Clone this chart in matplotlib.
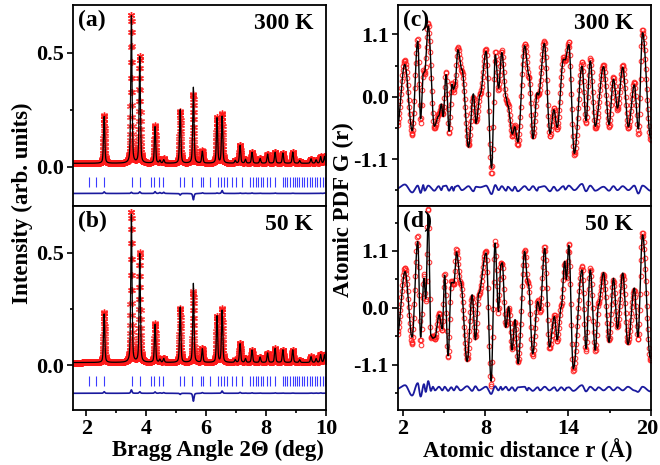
import numpy as np
import matplotlib.pyplot as plt
import matplotlib.transforms as mtransforms
from matplotlib.ticker import MultipleLocator, AutoMinorLocator

plt.rcParams['font.family'] = ['Liberation Serif', 'DejaVu Serif']
plt.rcParams['font.weight'] = 'bold'
plt.rcParams['axes.labelweight'] = 'bold'
plt.rcParams['font.size'] = 16
plt.rcParams['axes.linewidth'] = 1.3

# ---- XRD (Rietveld) : peak list, heights above background ----
peak_pos = [2.59, 3.50, 3.78, 4.29, 4.45, 4.58, 5.13, 5.57, 5.87, 6.36, 6.53, 6.97, 7.13,
            7.31, 7.53, 7.80, 8.05, 8.30, 8.56, 8.89, 9.12, 9.50, 9.67, 9.82, 9.95]
h_obs_300 = [0.212, 0.650, 0.472, 0.168, 0.016, 0.020, 0.228, 0.305, 0.055, 0.200, 0.218, 0.012, 0.080,
             0.018, 0.050, 0.022, 0.040, 0.050, 0.045, 0.050, 0.012, 0.020, 0.015, 0.030, 0.032]
h_calc_300 = [0.205, 0.645, 0.465, 0.160, 0.012, 0.015, 0.235, 0.333, 0.052, 0.198, 0.205, 0.012, 0.078,
              0.017, 0.048, 0.021, 0.040, 0.048, 0.045, 0.049, 0.012, 0.020, 0.015, 0.029, 0.030]
h_obs_50 = [0.222, 0.670, 0.487, 0.174, 0.015, 0.020, 0.240, 0.315, 0.063, 0.205, 0.240, 0.012, 0.087,
            0.018, 0.057, 0.025, 0.042, 0.064, 0.057, 0.057, 0.012, 0.027, 0.018, 0.037, 0.035]
h_calc_50 = [0.215, 0.655, 0.480, 0.168, 0.013, 0.017, 0.245, 0.350, 0.060, 0.205, 0.230, 0.012, 0.083,
             0.017, 0.055, 0.024, 0.042, 0.062, 0.056, 0.056, 0.012, 0.026, 0.017, 0.035, 0.034]
bg_300 = 0.015
bg_50 = 0.013

# Bragg reflection positions (deg)
bragg_pos = [2.07, 2.33, 2.60, 3.52, 3.78, 4.15, 4.27, 4.42, 4.57, 5.14, 5.25, 5.54, 5.81, 5.90,
             6.12, 6.40, 6.49, 6.59, 6.70, 6.85, 6.99, 7.18, 7.46, 7.55, 7.66, 7.74, 7.82, 7.91,
             8.02, 8.13, 8.30, 8.55, 8.63, 8.71, 8.80, 8.89, 8.97, 9.02, 9.11, 9.19, 9.27, 9.36,
             9.45, 9.54, 9.64, 9.71, 9.80, 9.89, 9.97]

# ---- PDF : turning points of G(r), and obs - calc at those points ----
r_300 = [1.60, 2.16, 2.70, 3.10, 3.31, 3.50, 3.60, 3.86, 4.30, 4.62, 4.81, 4.94, 5.15, 5.37, 5.58,
         5.69, 5.80, 6.01, 6.30, 6.78, 7.13, 7.32, 7.62, 8.05, 8.45, 8.72, 8.96, 9.19, 9.50, 9.62,
         9.96, 10.13, 10.35, 10.85, 11.16, 11.45, 11.75, 11.85, 12.27, 12.68, 12.96, 13.20, 13.66,
         13.78, 14.04, 14.45, 15.00, 15.29, 15.60, 15.96, 16.56, 16.96, 17.28, 17.57, 17.95, 18.36,
         18.79, 19.08, 19.39, 19.97, 20.05]
g_300 = [-0.55, 0.64, -0.67, 1.03, -0.47, 0.47, 0.40, 1.30, -0.56, -0.30, -0.16, -0.31, 0.44, -0.65, 0.25,
         0.09, 0.23, 0.88, 0.45, -0.85, 0.00, -0.44, 0.06, 0.85, -1.36, 0.80, 0.12, 0.82, -0.05, -0.12,
         -0.70, -0.50, -0.85, 0.94, 0.35, -0.70, 0.03, 0.05, 0.98, -0.70, -0.20, -0.58, 0.70,
         0.63, 0.97, -1.03, 0.62, -0.47, 0.68, -0.56, 0.56, -0.53, 0.35, -0.23, 0.56, -0.56,
         0.26, -0.66, 1.18, -0.76, -0.70]
d_300 = [0.00, 0.07, -0.07, 0.05, -0.08, 0.06, -0.04, 0.05, -0.04, 0.04, -0.03, 0.04, 0.05, -0.04, 0.03,
         -0.04, 0.03, 0.05, -0.03, 0.04, -0.05, 0.03, 0.02, 0.05, -0.10, 0.06, -0.03, 0.04, -0.04, 0.03,
         -0.04, 0.03, -0.05, 0.04, -0.03, 0.04, -0.04, 0.02, 0.04, -0.05, 0.03, -0.04, 0.04,
         -0.02, 0.05, -0.03, 0.08, -0.05, 0.05, -0.04, 0.03, -0.04, 0.04, -0.03, 0.04, -0.03,
         0.05, -0.09, 0.05, -0.04, 0.00]

r_50 = [1.60, 2.18, 2.69, 3.10, 3.31, 3.55, 3.68, 3.86, 4.05, 4.20, 4.35, 4.64, 4.88, 5.05, 5.30,
        5.53, 5.72, 5.91, 6.20, 6.68, 7.04, 7.28, 7.52, 8.05, 8.42, 8.70, 8.95, 9.12, 9.22, 9.48,
        9.69, 9.93, 10.15, 10.37, 10.85, 11.04, 11.12, 11.43, 11.79, 11.96, 12.30, 12.64, 13.00,
        13.20, 13.50, 13.75, 13.87, 14.04, 14.37, 15.00, 15.29, 15.60, 15.96, 16.20, 16.56, 16.96,
        17.28, 17.57, 17.95, 18.33, 18.79, 19.05, 19.39, 19.95, 20.05]
g_50 = [-0.55, 0.77, -0.70, 1.39, -0.72, 0.66, 0.12, 1.95, -0.58, -0.55, -0.60, -0.10, -0.44, 0.67, -0.97,
        0.52, 0.45, 1.13, 0.48, -0.99, 0.21, -0.57, 0.25, 1.10, -1.52, 1.30, -0.10, 0.87, 0.85, -0.34,
        -0.01, -0.79, -0.27, -1.05, 1.13, 0.52, 0.47, -0.93, 0.15, -0.08, 1.19, -0.79, -0.14,
        -0.66, 0.05, 0.87, 0.57, 1.24, -1.22, 0.80, -0.84, 0.77, -0.85, 0.09, 0.65, -0.63,
        0.54, -0.37, 0.64, -0.67, 0.35, -0.62, 1.45, -1.02, -0.95]
d_50 = [0.00, 0.07, -0.13, 0.11, -0.15, 0.09, -0.06, 0.15, -0.04, 0.04, -0.03, 0.04, -0.03, 0.04, -0.04,
        0.03, -0.03, 0.05, -0.03, 0.05, -0.04, 0.05, -0.03, 0.04, -0.10, 0.05, -0.03, 0.04, -0.02, 0.04,
        -0.03, 0.03, -0.04, 0.03, 0.04, -0.03, 0.02, -0.04, 0.03, -0.03, 0.04, -0.03, 0.03,
        -0.04, 0.03, -0.03, 0.02, 0.03, -0.04, 0.07, -0.05, 0.04, -0.03, 0.03, -0.03, 0.04,
        -0.03, 0.03, -0.03, 0.04, -0.03, -0.06, 0.04, -0.05, 0.00]

RED = '#ff1a1a'
NAVY = '#1a1a9e'
TICKBLUE = '#3c3cff'


def xrd_profile(x, pos, h, bg, w=0.05, eta=0.45):
    y = np.full_like(x, bg)
    for p, a in zip(pos, h):
        d = (x - p) / w
        y += a * (eta / (1 + 4 * d ** 2) + (1 - eta) * np.exp(-4 * np.log(2) * d ** 2))
    return y


def through_points(r, rk, gk):
    rk = np.asarray(rk)
    gk = np.asarray(gk)
    i = np.clip(np.searchsorted(rk, r) - 1, 0, len(rk) - 2)
    t = (r - rk[i]) / (rk[i + 1] - rk[i])
    s = (1 - np.cos(np.pi * t)) / 2
    return gk[i] + (gk[i + 1] - gk[i]) * s


def style(ax):
    ax.tick_params(which='both', direction='out', width=1.2, labelsize=16, pad=2)
    ax.tick_params(which='major', length=4.5)
    ax.tick_params(which='minor', length=2.5)
    ax.xaxis.set_minor_locator(AutoMinorLocator(2))
    ax.yaxis.set_minor_locator(AutoMinorLocator(2))


fig = plt.figure(figsize=(6.6, 4.65), dpi=100)
W, H = 660, 465


def box(x0, y0, x1, y1):
    return [x0 / W, 1 - y1 / H, (x1 - x0) / W, (y1 - y0) / H]


ax_a = fig.add_axes(box(73, 5, 326, 206))
ax_b = fig.add_axes(box(73, 206, 326, 410))
ax_c = fig.add_axes(box(398, 5, 651, 206))
ax_d = fig.add_axes(box(398, 206, 651, 410))

tt = np.arange(1.55, 10.0, 0.004)
xfine = np.arange(1.55, 10.0, 0.002)
for ax, ho, hc, bg, ylim, tick_y, dif_y, label, temp in [
        (ax_a, h_obs_300, h_calc_300, bg_300, (-0.172, 0.709), -0.067, -0.117, '(a)', '300 K'),
        (ax_b, h_obs_50, h_calc_50, bg_50, (-0.197, 0.706), -0.068, -0.123, '(b)', '50 K')]:
    obs = xrd_profile(tt, peak_pos, ho, bg)
    calc = xrd_profile(xfine, peak_pos, hc, bg)
    diff = xrd_profile(xfine, peak_pos, ho, bg) - calc
    ax.plot(tt, obs, linestyle='none', marker=(6, 2, 0), ms=5, mew=0.9, color=RED, alpha=0.8)
    ax.plot(xfine, calc, color='black', lw=0.9)
    ax.plot(bragg_pos, [tick_y] * len(bragg_pos), linestyle='none', marker='|', ms=6.5, mew=0.8,
            color=TICKBLUE)
    ax.plot(xfine, diff + dif_y, color=NAVY, lw=1.2)
    ax.set_xlim(1.55, 10.0)
    ax.set_ylim(*ylim)
    ax.xaxis.set_major_locator(MultipleLocator(2))
    ax.yaxis.set_major_locator(MultipleLocator(0.5))
    style(ax)
    ax.text(0.018, 0.975, label, transform=ax.transAxes, ha='left', va='top', fontsize=17)
    ax.text(0.95, 0.96, temp, transform=ax.transAxes, ha='right', va='top', fontsize=17)

ax_a.tick_params(axis='x', which='both', bottom=False, labelbottom=False)

rr = np.arange(1.67, 20.0, 0.035)
rfine = np.arange(1.6, 20.05, 0.01)
for ax, rk, gk, dk, ylim, dif_y, label, temp in [
        (ax_c, r_300, g_300, d_300, (-1.93, 1.62), -1.62, '(c)', '300 K'),
        (ax_d, r_50, g_50, d_50, (-1.98, 1.97), -1.57, '(d)', '50 K')]:
    calc_k = np.asarray(gk) - np.asarray(dk)
    ax.plot(rr, through_points(rr, rk, gk), linestyle='none', marker='o', ms=3.3, mfc='none',
            mec=RED, mew=0.8, alpha=0.85)
    ax.plot(rfine, through_points(rfine, rk, calc_k), color='black', lw=1.0)
    ax.plot(rfine, through_points(rfine, rk, dk) + dif_y, color=NAVY, lw=1.3)
    ax.set_xlim(1.67, 20.0)
    ax.set_ylim(*ylim)
    ax.set_xticks([2, 8, 14, 20])
    ax.set_yticks([-1.1, 0.0, 1.1])
    ax.set_yticklabels(['-1.1', '0.0', '1.1'])
    style(ax)
    ax.text(0.018, 0.975, label, transform=ax.transAxes, ha='left', va='top', fontsize=17)
    ax.text(0.93, 0.96, temp, transform=ax.transAxes, ha='right', va='top', fontsize=17)

ax_c.tick_params(axis='x', which='both', bottom=False, labelbottom=False)

# nudge the "20" label so it stays inside the figure
last = ax_d.get_xticklabels()[-1]
last.set_transform(last.get_transform() + mtransforms.ScaledTranslation(-4 / 100, 0, fig.dpi_scale_trans))

fig.text(22 / W, 1 - 203 / H, 'Intensity (arb. units)', rotation=90, ha='center', va='center',
         fontsize=16.5, fontweight='bold')
fig.text(343 / W, 1 - 210 / H, 'Atomic PDF G (r)', rotation=90, ha='center', va='center',
         fontsize=16.5, fontweight='bold')
fig.text(218 / W, 1 - 450 / H, 'Bragg Angle 2\u0398 (deg)', ha='center', va='center',
         fontsize=16.5, fontweight='bold')
fig.text(528 / W, 1 - 450 / H, 'Atomic distance r (\u00c5)', ha='center', va='center',
         fontsize=16.5, fontweight='bold')

fig.savefig('out.png', dpi=100)
